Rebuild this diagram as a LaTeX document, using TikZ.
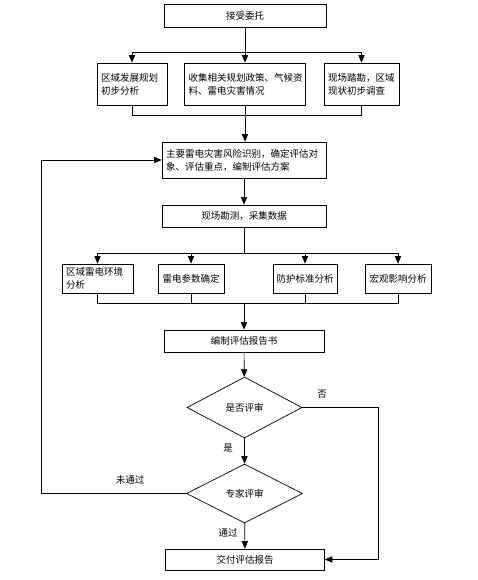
\documentclass[tikz,border=0pt]{standalone}
\usepackage{fontspec}
\setmainfont{Noto Sans CJK SC}
\usepackage{tikz}
\usetikzlibrary{shapes,arrows}

\begin{document}
\begin{tikzpicture}[x=1pt, y=-1pt, >=triangle 45, line width=0.7pt,
   box/.style = {draw, rectangle, inner sep=0pt, font=\fontsize{9.5}{13}\selectfont},
   lbox/.style = {box, align=left},
   dec/.style = {draw, diamond, inner sep=0pt, aspect=1.9, font=\fontsize{9.5}{13}\selectfont},
   lab/.style = {font=\fontsize{9.5}{13}\selectfont}]
   \useasboundingbox (0,0) rectangle (477,580);
   % top part
   \node[box, minimum width=162pt, minimum height=23pt] (start) at (245,15.5) {接受委托};
   \node[lbox, minimum width=70pt, minimum height=42pt, text width=62pt] (plan) at (132,84) {区域发展规划\\初步分析};
   \node[lbox, minimum width=121pt, minimum height=42pt, text width=113pt] (data) at (245,84) {收集相关规划政策、气候资\\料、雷电灾害情况};
   \node[lbox, minimum width=75pt, minimum height=42pt, text width=67pt] (site) at (361.5,84) {现场踏勘，区域\\现状初步调查};
   \coordinate (split1) at (245,52);
   \coordinate (join1) at (245,115);
   \draw (start.south) -- (split1);
   \draw[->] (split1) -| (plan.north);
   \draw[->] (split1) -- (data.north);
   \draw[->] (split1) -| (site.north);
   \draw (plan.south) |- (join1);
   \draw (site.south) |- (join1);
   \draw (data.south) -- (join1);
   % middle part
   \node[lbox, minimum width=164pt, minimum height=36pt, text width=156pt] (risk) at (244,160) {主要雷电灾害风险识别，确定评估对\\象、评估重点，编制评估方案};
   \node[box, minimum width=164pt, minimum height=22pt] (survey) at (244,216) {现场勘测，采集数据};
   \draw[->] (join1) -- (join1 |- risk.north);
   \draw[->] (risk) -- (survey);
   \node[lbox, minimum width=71pt, minimum height=29pt, text width=63pt] (env) at (97.5,278.5) {区域雷电环境\\分析};
   \node[box, minimum width=66pt, minimum height=29pt] (param) at (191,278.5) {雷电参数确定};
   \node[box, minimum width=64pt, minimum height=29pt] (std) at (305,278.5) {防护标准分析};
   \node[box, minimum width=66pt, minimum height=29pt] (macro) at (398,278.5) {宏观影响分析};
   \coordinate (split2) at (244,253);
   \coordinate (join2) at (244,303);
   \draw (survey.south) -- (split2);
   \draw[->] (split2) -| (env.north);
   \draw[->] (split2) -| (param.north);
   \draw[->] (split2) -| (std.north);
   \draw[->] (split2) -| (macro.north);
   \draw (env.south) |- (join2);
   \draw (param.south) |- (join2);
   \draw (std.south) |- (join2);
   \draw (macro.south) |- (join2);
   \node[box, minimum width=160pt, minimum height=22pt] (report) at (244,341) {编制评估报告书};
   \draw[->] (join2) -- (report.north);
   % bottom part
   \node[dec, minimum width=115pt, minimum height=61pt] (ask) at (244.5,407.5) {是否评审};
   \node[dec, minimum width=116pt, minimum height=59pt] (expert) at (244.5,493.5) {专家评审};
   \node[box, minimum width=159pt, minimum height=21pt] (deliver) at (245,559.5) {交付评估报告};
   \draw[->] (report) -- (ask);
   \draw[->] (ask) -- (expert);
   \draw[->] (expert) -- (deliver);
   \draw[->] (expert.west) -- ++(-145,0) |- (risk.west);
   \draw[->] (ask.east) -- ++(76,0) |- (deliver.east);
   \node[lab] (yes) at (228,448) {是};
   \node[lab] (no) at (322,394) {否};
   \node[lab] (fail) at (130,480) {未通过};
   \node[lab] (pass) at (228,533) {通过};
\end{tikzpicture}
\end{document}
